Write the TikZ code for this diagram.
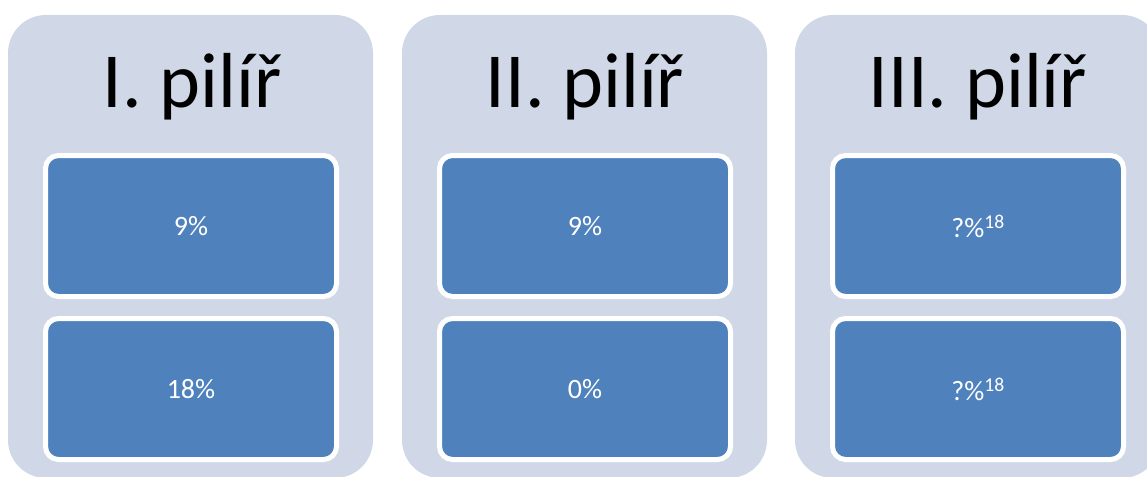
\documentclass[tikz,border=0pt]{standalone}
\usepackage{fontspec}
\setmainfont{Carlito}
\definecolor{colbg}{HTML}{D0D8E8}
\definecolor{boxblue}{HTML}{4F81BD}
\tikzset{
  column/.style={fill=colbg, draw=none, rounded corners=38pt, minimum width=365pt, minimum height=463pt, inner sep=0pt},
  title/.style={anchor=base, font=\fontsize{78}{78}\selectfont, text=black, inner sep=0pt},
  valbox/.style={fill=boxblue, draw=white, line width=5pt, rounded corners=13pt, minimum width=291pt, minimum height=141pt, text=white, font=\fontsize{28}{28}\selectfont, inner sep=0pt}
}
\begin{document}
\begin{tikzpicture}[x=1pt,y=-1pt]
\useasboundingbox (0,0) rectangle (1147,476);
\node[column] (c1) at (190.5,246.5) {};
\node[column] (c2) at (584.5,246.5) {};
\node[column] (c3) at (977.5,246.5) {};
\node[title] (t1) at (192,108) {I. pilíř};
\node[title] (t2) at (585,108) {II. pilíř};
\node[title] (t3) at (978,108) {III. pilíř};
\node[valbox] (a1) at (191,226) {9\%};
\node[valbox] (b1) at (191,389) {18\%};
\node[valbox] (a2) at (585,226) {9\%};
\node[valbox] (b2) at (585,389) {0\%};
\node[valbox] (a3) at (978,226) {?\%\textsuperscript{18}};
\node[valbox] (b3) at (978,389) {?\%\textsuperscript{18}};
\end{tikzpicture}
\end{document}
